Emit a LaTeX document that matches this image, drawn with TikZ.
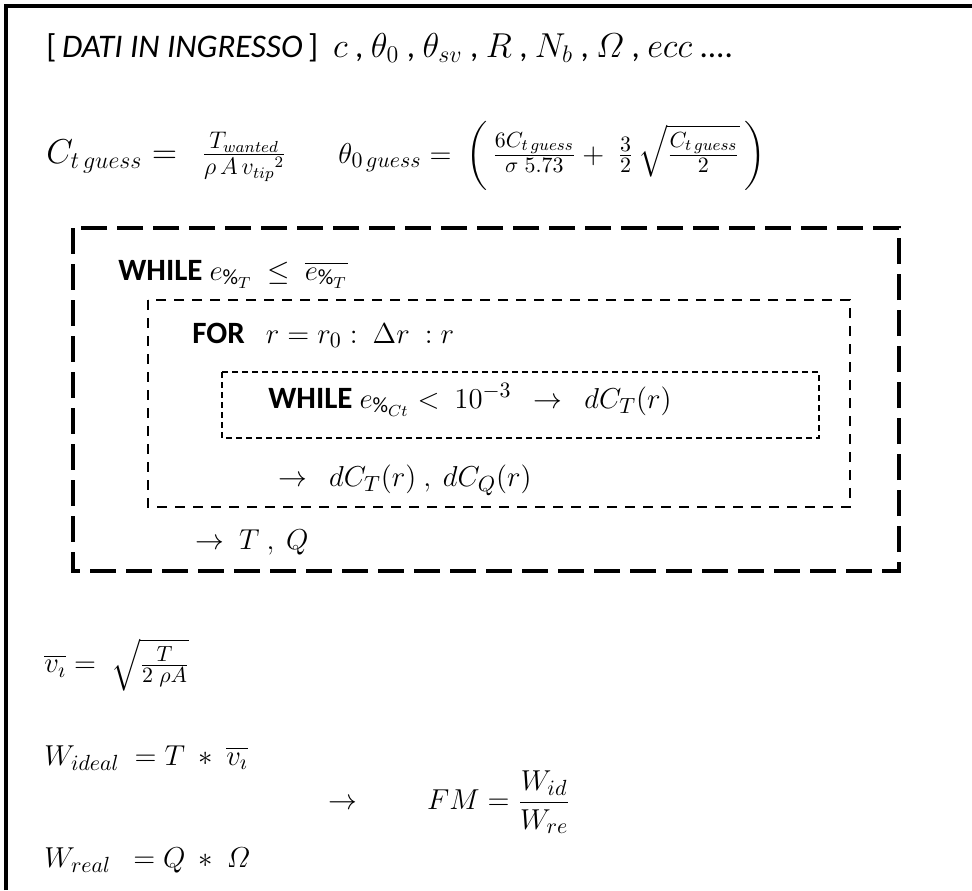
\documentclass[tikz,border=0pt]{standalone}
\usepackage{amsmath}
\usepackage{fontspec}
\setmainfont{Carlito}

\begin{document}
\begin{tikzpicture}[x=0.5pt,y=-0.5pt]
  \tikzset{
    loop frame/.style={
      draw=#1,
      line cap=butt,
    },
    loop frame/.default=black,
    outer loop/.style={loop frame, line width=1.8pt, dash pattern=on 13pt off 5pt},
    radius loop/.style={loop frame, line width=1.2pt, dash pattern=on 5pt off 4pt},
    inner loop/.style={loop frame, line width=0.7pt, dash pattern=on 3pt off 2pt},
    stmt/.style={anchor=base west, inner sep=0pt, font=\fontsize{15.5}{19}\selectfont},
  }
  \newcommand{\gss}{t\,guess}

  \useasboundingbox (0,0) rectangle (972,890);
  % cornice del foglio
  \draw[line width=2pt] (6,890) -- (6,6) -- (972,6);

  % dati e prima stima
  \node[stmt, font=\fontsize{16.5}{20}\selectfont] (dati) at (46,57)
    {[\,\textit{DATI IN INGRESSO}\,]\ \ $c$ , $\theta_0$ , $\theta_{sv}$ , $R$ , $N_b$ , $\varOmega$ , $ecc$ ....};
  \node[stmt, font=\fontsize{16.5}{20}\selectfont] (ctguess) at (46,163)
    {$C_{\gss} =\ \ \frac{T_{wanted}}{\rho\,A\,{v_{tip}}^2}$};
  \node[stmt] (thguess) at (338,163)
    {$\theta_{0\,guess} =\ \left(\,\frac{6C_{\gss}}{\sigma\;5.73} +\ \frac{3}{2}\,\sqrt{\frac{C_{\gss}}{2}}\,\right)$};

  % cicli
  \draw[outer loop] (73,228) rectangle (899,571);
  \draw[radius loop] (148,300) rectangle (850,507);
  \draw[inner loop] (222,372) rectangle (819,438);

  \node[stmt] (whileT) at (118,280)
    {\textbf{WHILE}\ $e_{\%_T}\ \le\ \overline{e_{\%_T}}$};
  \node[stmt] (forr) at (192,343)
    {\textbf{FOR}\ \ \ $r = r_0 :\ \Delta r\ : r$};
  \node[stmt] (whileCt) at (268,408)
    {\textbf{WHILE}\ $e_{\%_{Ct}} <\ 10^{-3}\ \ \to\ \ dC_T(r)$};
  \node[stmt] (dct) at (278,486)
    {$\to\ \ dC_T(r)\ ,\ dC_Q(r)$};
  \node[stmt] (tq) at (195,549)
    {$\to\ T\ ,\ Q$};

  % prestazioni
  \node[stmt, anchor=west] (vi) at (44,665)
    {$\overline{v_\imath} =\ \sqrt{\frac{T}{2\;\rho A}}$};
  \node[stmt] (wid) at (44,765)
    {$W_{ideal}\ = T\ \ast\ \overline{v_\imath}$};
  \node[stmt, anchor=west] (fm) at (328,802)
    {$\to\qquad FM = \dfrac{W_{id}}{W_{re}}$};
  \node[stmt] (wre) at (44,867)
    {$W_{real}\ \ = Q\ \ast\ \varOmega$};
\end{tikzpicture}
\end{document}
